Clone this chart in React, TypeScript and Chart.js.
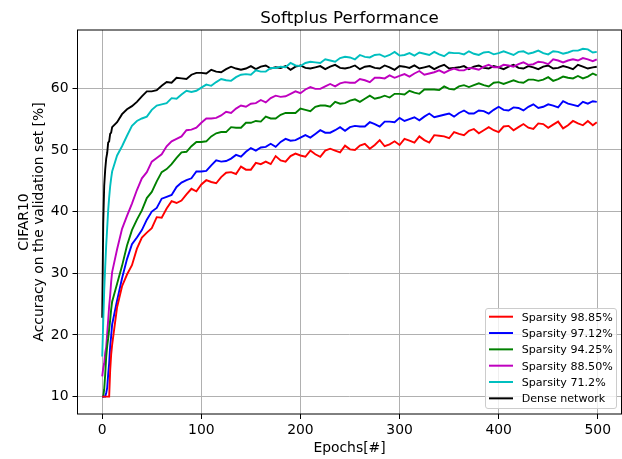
import React, { useEffect, useRef } from "react";
import { Chart, registerables } from "chart.js";

Chart.register(...registerables);

const epochs = [
  0, 1, 2, 3, 4, 5, 6, 7, 8, 9,
  10, 15, 20, 25, 30, 35, 40, 45, 50, 55,
  60, 65, 70, 75, 80, 85, 90, 95, 100, 105,
  110, 115, 120, 125, 130, 135, 140, 145, 150, 155,
  160, 165, 170, 175, 180, 185, 190, 195, 200, 205,
  210, 215, 220, 225, 230, 235, 240, 245, 250, 255,
  260, 265, 270, 275, 280, 285, 290, 295, 300, 305,
  310, 315, 320, 325, 330, 335, 340, 345, 350, 355,
  360, 365, 370, 375, 380, 385, 390, 395, 400, 405,
  410, 415, 420, 425, 430, 435, 440, 445, 450, 455,
  460, 465, 470, 475, 480, 485, 490, 495,
  499,
];

const sparsity9885 = [
  10.0, 10.0, 10.0, 10.0, 10.0, 10.0, 10.0, 10.0, 14.2, 16.8,
  18.4, 24.5, 27.9, 29.8, 31.3, 34.0, 35.8, 36.6, 37.3, 39.1,
  39.0, 40.5, 41.7, 41.4, 41.8, 42.8, 43.7, 43.3, 44.4, 45.1,
  44.8, 44.6, 45.6, 46.3, 46.4, 46.1, 47.3, 46.8, 46.8, 47.9,
  47.7, 48.1, 47.7, 49.0, 48.3, 48.1, 49.0, 49.4, 49.1, 48.9,
  49.9, 49.3, 48.9, 49.9, 50.2, 49.9, 49.6, 50.7, 50.1, 50.0,
  50.7, 51.0, 50.2, 50.8, 51.6, 50.6, 50.9, 51.4, 50.8, 51.8,
  51.5, 51.2, 52.2, 51.6, 51.2, 52.4, 52.3, 52.2, 51.9, 52.9,
  52.6, 52.4, 53.1, 53.4, 52.7, 53.2, 53.7, 53.2, 52.9, 53.8,
  53.9, 53.2, 53.7, 54.2, 53.6, 53.4, 54.3, 54.2, 53.6, 54.1,
  54.6, 53.5, 54.0, 54.7, 54.3, 54.0, 54.7, 54.0,
  54.5,
];

const sparsity9712 = [
  10.0, 10.0, 10.0, 10.0, 10.6, 11.4, 13.6, 15.4, 18.1, 19.8,
  21.7, 25.6, 29.2, 32.3, 34.7, 35.8, 37.0, 38.7, 40.0, 40.6,
  42.1, 42.4, 42.7, 44.0, 44.7, 45.1, 45.4, 46.5, 46.5, 46.6,
  47.5, 48.3, 48.1, 48.2, 48.6, 49.2, 48.9, 49.7, 50.3, 49.9,
  50.4, 50.5, 51.0, 50.5, 51.3, 51.8, 51.5, 51.6, 52.0, 52.4,
  52.0, 52.6, 53.2, 52.8, 52.8, 53.2, 53.7, 53.1, 53.7, 53.9,
  53.8, 53.8, 54.5, 54.2, 53.8, 54.6, 54.6, 54.5, 55.2, 54.7,
  55.0, 55.3, 54.8, 55.4, 55.9, 55.3, 55.5, 55.7, 55.9, 55.4,
  56.0, 56.4, 55.9, 55.9, 56.4, 56.3, 55.9, 56.5, 57.0, 56.5,
  56.4, 56.9, 56.8, 56.4, 57.0, 57.4, 56.8, 57.0, 57.4, 57.2,
  56.9, 57.9, 57.5, 57.3, 57.1, 57.8, 57.5, 57.9,
  57.8,
];

const sparsity9425 = [
  10.0, 10.0, 11.2, 13.6, 16.4, 18.2, 19.4, 20.9, 22.4, 24.1,
  25.4, 28.3, 31.2, 34.5, 37.0, 38.7, 40.2, 42.2, 43.2, 44.9,
  46.4, 46.9, 47.7, 48.7, 49.6, 49.7, 50.6, 51.3, 51.3, 51.4,
  52.2, 52.7, 52.9, 52.9, 53.7, 53.6, 53.6, 54.4, 54.4, 54.7,
  54.6, 55.4, 55.1, 55.1, 55.7, 56.0, 56.0, 56.0, 56.7, 56.5,
  56.3, 57.0, 57.2, 57.2, 57.0, 57.8, 57.5, 57.6, 58.0, 58.2,
  57.8, 58.3, 58.8, 58.3, 58.5, 58.8, 58.5, 59.1, 59.1, 59.0,
  59.6, 59.3, 59.1, 59.8, 59.8, 59.8, 59.7, 60.3, 59.9, 59.8,
  60.3, 60.5, 60.2, 60.5, 60.8, 60.5, 60.3, 60.9, 61.0, 60.7,
  61.0, 61.3, 61.0, 60.9, 61.4, 61.4, 61.2, 61.4, 61.8, 61.2,
  61.5, 61.9, 61.7, 61.6, 62.0, 61.6, 61.9, 62.4,
  62.1,
];

const sparsity8850 = [
  13.3, 14.6, 15.4, 17.1, 18.0, 20.2, 22.4, 24.7, 26.4, 28.6,
  30.2, 33.9, 37.2, 39.3, 41.3, 43.5, 45.4, 46.4, 48.1, 48.7,
  49.3, 50.6, 51.4, 51.8, 52.2, 53.2, 53.3, 53.6, 54.4, 55.1,
  55.1, 55.2, 55.6, 56.2, 56.0, 56.7, 57.2, 57.0, 57.5, 57.6,
  58.1, 57.7, 58.4, 58.8, 58.6, 58.7, 59.1, 59.5, 59.2, 59.8,
  60.2, 59.9, 59.9, 60.3, 60.7, 60.3, 60.8, 61.0, 60.9, 60.9,
  61.5, 61.3, 61.0, 61.7, 61.7, 61.6, 62.1, 61.7, 62.0, 62.3,
  61.9, 62.4, 62.8, 62.2, 62.4, 62.6, 62.9, 62.5, 62.9, 63.2,
  62.9, 62.9, 63.3, 63.2, 63.0, 63.5, 63.8, 63.4, 63.4, 63.8,
  63.7, 63.5, 63.9, 64.2, 63.8, 63.9, 64.3, 64.2, 63.9, 64.7,
  64.5, 64.2, 64.5, 64.7, 64.5, 64.9, 64.7, 64.4,
  64.7,
];

const sparsity712 = [
  16.5, 22.0, 27.2, 31.0, 34.5, 37.3, 40.2, 42.3, 44.1, 45.4,
  46.5, 49.1, 50.6, 52.3, 53.9, 54.7, 55.1, 55.4, 56.5, 57.2,
  57.4, 57.6, 58.4, 58.3, 59.0, 59.6, 59.4, 59.6, 60.1, 60.6,
  60.4, 61.0, 61.5, 61.3, 61.2, 61.8, 62.2, 62.3, 62.2, 62.9,
  62.7, 62.7, 63.3, 63.3, 63.5, 63.4, 64.1, 63.7, 63.6, 64.1,
  64.3, 64.2, 64.1, 64.7, 64.5, 64.3, 64.9, 65.1, 65.0, 64.7,
  65.4, 65.1, 65.0, 65.4, 65.5, 65.1, 65.4, 65.9, 65.3, 65.4,
  65.7, 65.3, 65.8, 65.6, 65.4, 65.9, 65.5, 65.2, 65.8, 65.7,
  65.7, 65.5, 66.0, 65.6, 65.4, 65.8, 65.9, 65.5, 65.7, 66.0,
  65.7, 65.4, 65.9, 66.0, 65.6, 65.8, 66.1, 65.7, 65.5, 66.0,
  65.9, 65.6, 65.8, 66.1, 66.1, 66.4, 66.3, 65.8,
  65.9,
];

const denseNetwork = [
  22.8, 38.0, 44.2, 46.8, 48.6, 49.5, 51.2, 51.4, 52.6, 52.8,
  53.7, 54.5, 55.8, 56.6, 57.1, 57.8, 58.7, 59.5, 59.5, 59.7,
  60.4, 61.0, 60.9, 61.7, 61.6, 61.5, 62.2, 62.5, 62.5, 62.4,
  63.0, 62.7, 62.6, 63.1, 63.5, 63.2, 63.0, 63.2, 63.6, 63.1,
  63.5, 63.7, 63.2, 63.4, 63.3, 63.6, 63.0, 63.5, 63.7, 63.3,
  63.2, 63.4, 63.6, 63.1, 63.5, 63.8, 63.3, 63.2, 63.4, 63.7,
  63.1, 63.5, 63.6, 63.3, 63.2, 63.7, 63.4, 63.0, 63.6, 63.5,
  63.3, 63.7, 63.2, 63.4, 63.6, 63.1, 63.5, 63.8, 63.2, 63.3,
  63.4, 63.6, 63.1, 63.5, 63.7, 63.3, 63.2, 63.6, 63.4, 63.1,
  63.5, 63.8, 63.3, 63.2, 63.6, 63.4, 63.1, 63.5, 63.7, 63.2,
  63.3, 63.6, 63.4, 63.1, 63.8, 63.5, 63.2, 63.4,
  63.5,
];

const seriesLabels = [
  "Sparsity 98.85%",
  "Sparsity 97.12%",
  "Sparsity 94.25%",
  "Sparsity 88.50%",
  "Sparsity 71.2%",
  "Dense network",
];
const seriesValues = [sparsity9885, sparsity9712, sparsity9425, sparsity8850, sparsity712, denseNetwork];
const seriesColors = ["#ff0000", "#0000ff", "#008000", "#bf00bf", "#00bfbf", "#000000"];

const xTicks = [0, 100, 200, 300, 400, 500];
const yTicks = [10, 20, 30, 40, 50, 60];

const chartTitle = "Softplus Performance";
const xTitle = "Epochs[#]";
const yTitleLines = ["CIFAR10", "Accuracy on the validation set [%]"];

const FONT = "'DejaVu Sans', 'Liberation Sans', sans-serif";

const decorPlugin = {
  id: "decor",
  afterDatasetsDraw(chart: any) {
    const ctx = chart.ctx as CanvasRenderingContext2D;
    const a = chart.chartArea;
    ctx.save();
    ctx.strokeStyle = "#000";
    ctx.lineWidth = 1;
    ctx.strokeRect(a.left, a.top, a.right - a.left, a.bottom - a.top);

    ctx.fillStyle = "#000";
    ctx.font = `16.7px ${FONT}`;
    ctx.textAlign = "center";
    ctx.textBaseline = "alphabetic";
    const cx = (a.left + a.right) / 2;
    ctx.fillText(chartTitle, cx, 22.7);

    ctx.font = `13.9px ${FONT}`;
    ctx.fillText(xTitle, cx, 451.5);

    const cy = (a.top + a.bottom) / 2;
    const baselines = [27.8, 42.8];
    yTitleLines.forEach((t, i) => {
      ctx.save();
      ctx.translate(baselines[i], cy);
      ctx.rotate(-Math.PI / 2);
      ctx.textAlign = "center";
      ctx.textBaseline = "alphabetic";
      ctx.fillText(t, 0, 0);
      ctx.restore();
    });

    const bx = 485.5, by = 308.5, bw = 131, bh = 100, r = 2.5;
    ctx.beginPath();
    ctx.moveTo(bx + r, by);
    ctx.lineTo(bx + bw - r, by);
    ctx.arcTo(bx + bw, by, bx + bw, by + r, r);
    ctx.lineTo(bx + bw, by + bh - r);
    ctx.arcTo(bx + bw, by + bh, bx + bw - r, by + bh, r);
    ctx.lineTo(bx + r, by + bh);
    ctx.arcTo(bx, by + bh, bx, by + bh - r, r);
    ctx.lineTo(bx, by + r);
    ctx.arcTo(bx, by, bx + r, by, r);
    ctx.closePath();
    ctx.fillStyle = "rgba(255,255,255,0.8)";
    ctx.fill();
    ctx.strokeStyle = "#cccccc";
    ctx.lineWidth = 1;
    ctx.stroke();

    ctx.font = `11.1px ${FONT}`;
    ctx.textAlign = "left";
    ctx.textBaseline = "alphabetic";
    chart.data.datasets.forEach((ds: any, i: number) => {
      const y = 316.7 + i * 16.33;
      ctx.strokeStyle = ds.borderColor;
      ctx.lineWidth = 2;
      ctx.beginPath();
      ctx.moveTo(489, y);
      ctx.lineTo(513, y);
      ctx.stroke();
      ctx.fillStyle = "#000";
      ctx.fillText(ds.label, 521.7, y + 4.1);
    });
    ctx.restore();
  },
};

export default function App() {
  const canvasRef = useRef<HTMLCanvasElement | null>(null);

  useEffect(() => {
    if (!canvasRef.current) return;
    const chart = new Chart(canvasRef.current, {
      type: "line",
      data: {
        datasets: seriesLabels.map((label, i) => ({
          label,
          data: epochs.map((e, j) => ({ x: e, y: seriesValues[i][j] })),
          borderColor: seriesColors[i],
          backgroundColor: seriesColors[i],
          borderWidth: 1.9,
          pointRadius: 0,
          tension: 0,
          fill: false,
        })),
      },
      options: {
        responsive: false,
        animation: false,
        devicePixelRatio: 1,
        layout: { padding: { left: 0, right: 0.5, top: 30, bottom: 0 } },
        plugins: {
          legend: { display: false },
          title: { display: false },
          tooltip: { enabled: false },
        },
        scales: {
          x: {
            type: "linear",
            min: -24.95,
            max: 523.95,
            afterFit: (s: any) => {
              s.height = 45;
            },
            afterBuildTicks: (s: any) => {
              s.ticks = xTicks.map((v) => ({ value: v }));
            },
            grid: {
              color: "#b0b0b0",
              lineWidth: 1,
              tickColor: "#000",
              tickLength: 5,
              drawTicks: true,
            },
            border: { display: false },
            ticks: {
              color: "#000",
              font: { family: FONT, size: 13.9 },
              padding: 3.5,
              maxRotation: 0,
              autoSkip: false,
            },
          },
          y: {
            type: "linear",
            min: 7.18,
            max: 69.45,
            afterFit: (s: any) => {
              s.width = 77.5;
            },
            afterBuildTicks: (s: any) => {
              s.ticks = yTicks.map((v) => ({ value: v }));
            },
            grid: {
              color: "#b0b0b0",
              lineWidth: 1,
              tickColor: "#000",
              tickLength: 5,
              drawTicks: true,
            },
            border: { display: false },
            ticks: {
              color: "#000",
              font: { family: FONT, size: 13.9 },
              padding: 4,
              autoSkip: false,
            },
          },
        },
      },
      plugins: [decorPlugin],
    });
    return () => chart.destroy();
  }, []);

  return (
    <div style={{ position: "absolute", left: 0, top: 0, width: 622, height: 459, background: "#fff" }}>
      <canvas ref={canvasRef} width={622} height={459} style={{ display: "block", width: 622, height: 459 }} />
    </div>
  );
}
